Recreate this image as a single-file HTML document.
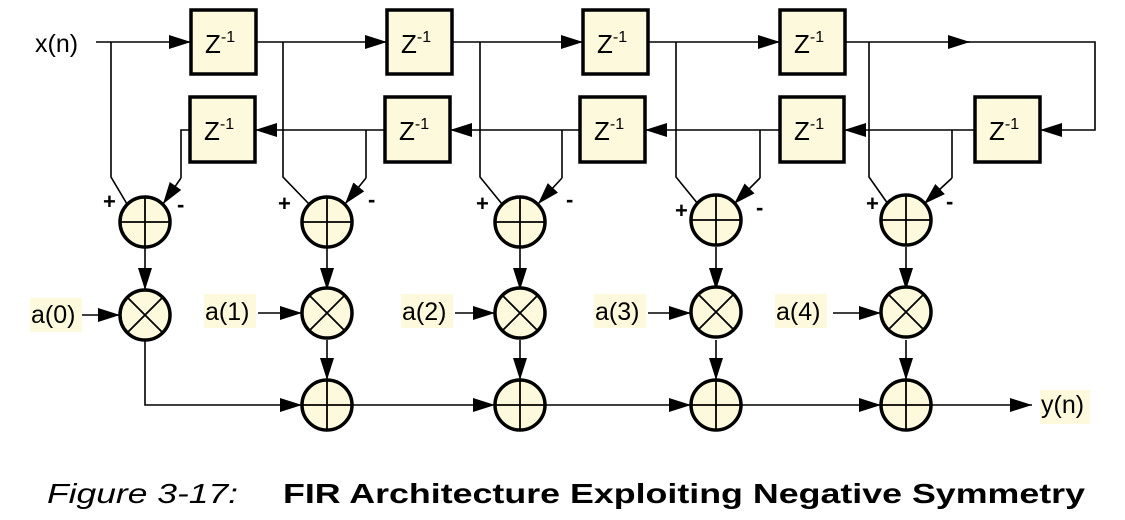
<!DOCTYPE html>
<html><head><meta charset="utf-8"><style>
html,body{margin:0;padding:0;background:#fff;}
svg{display:block;}
</style></head><body>
<svg width="1125" height="520" viewBox="0 0 1125 520" xmlns="http://www.w3.org/2000/svg" font-family="Liberation Sans, sans-serif">
<defs>
<marker id="a" markerUnits="userSpaceOnUse" markerWidth="22" markerHeight="14" refX="22" refY="7" orient="auto"><path d="M0,0 L22,7 L0,14 Z" fill="#000"/></marker>
</defs>
<g stroke="#000" stroke-width="1.6" fill="none">
<line x1="96" y1="42" x2="191" y2="42" marker-end="url(#a)"/>
<line x1="256" y1="42" x2="387" y2="42" marker-end="url(#a)"/>
<line x1="452" y1="42" x2="583" y2="42" marker-end="url(#a)"/>
<line x1="648" y1="42" x2="780" y2="42" marker-end="url(#a)"/>
<line x1="845" y1="42" x2="970" y2="42" marker-end="url(#a)"/>
<polyline points="960,42 1095,42 1095,130 1040,130" marker-end="url(#a)"/>
<line x1="975" y1="130" x2="844" y2="130" marker-end="url(#a)"/>
<line x1="780" y1="130" x2="645" y2="130" marker-end="url(#a)"/>
<line x1="580" y1="130" x2="450" y2="130" marker-end="url(#a)"/>
<line x1="385" y1="130" x2="255" y2="130" marker-end="url(#a)"/>
<polyline points="111,42 111,177 127,204"/>
<polyline points="283,42 283,177 309,204"/>
<polyline points="480,42 480,177 502,204"/>
<polyline points="676,42 676,177 698,204"/>
<polyline points="869,42 869,177 888,204"/>
<polyline points="190,130 181,130 181,178"/><line x1="181" y1="178" x2="163" y2="204" marker-end="url(#a)"/>
<line x1="366" y1="130" x2="366" y2="178"/><line x1="366" y1="178" x2="345" y2="204" marker-end="url(#a)"/>
<line x1="562" y1="130" x2="562" y2="178"/><line x1="562" y1="178" x2="538" y2="204" marker-end="url(#a)"/>
<line x1="760" y1="130" x2="760" y2="178"/><line x1="760" y1="178" x2="734" y2="204" marker-end="url(#a)"/>
<line x1="952" y1="130" x2="952" y2="178"/><line x1="952" y1="178" x2="924" y2="204" marker-end="url(#a)"/>
<line x1="145" y1="247" x2="145" y2="290" marker-end="url(#a)"/>
<line x1="327" y1="247" x2="327" y2="290" marker-end="url(#a)"/>
<line x1="520" y1="247" x2="520" y2="290" marker-end="url(#a)"/>
<line x1="716" y1="247" x2="716" y2="290" marker-end="url(#a)"/>
<line x1="906" y1="247" x2="906" y2="290" marker-end="url(#a)"/>
<polyline points="145,340 145,405 302,405" marker-end="url(#a)"/>
<line x1="327" y1="340" x2="327" y2="380" marker-end="url(#a)"/>
<line x1="520" y1="340" x2="520" y2="380" marker-end="url(#a)"/>
<line x1="716" y1="340" x2="716" y2="380" marker-end="url(#a)"/>
<line x1="906" y1="340" x2="906" y2="380" marker-end="url(#a)"/>
<line x1="352" y1="405" x2="495" y2="405" marker-end="url(#a)"/>
<line x1="545" y1="405" x2="691" y2="405" marker-end="url(#a)"/>
<line x1="741" y1="405" x2="881" y2="405" marker-end="url(#a)"/>
<line x1="931" y1="405" x2="1032" y2="405" marker-end="url(#a)"/>
<line x1="82" y1="315" x2="120" y2="315" marker-end="url(#a)"/>
<line x1="258" y1="313" x2="302" y2="313" marker-end="url(#a)"/>
<line x1="455" y1="313" x2="495" y2="313" marker-end="url(#a)"/>
<line x1="648" y1="313" x2="691" y2="313" marker-end="url(#a)"/>
<line x1="833" y1="313" x2="881" y2="313" marker-end="url(#a)"/>
</g>
<g fill="#fdf9dc" stroke="#000" stroke-width="3.5">
<rect x="191" y="10" width="65" height="64"/>
<rect x="387" y="10" width="65" height="64"/>
<rect x="583" y="10" width="65" height="64"/>
<rect x="780" y="10" width="65" height="64"/>
<rect x="190" y="97" width="65" height="65"/>
<rect x="385" y="97" width="65" height="65"/>
<rect x="580" y="97" width="65" height="65"/>
<rect x="780" y="97" width="64" height="65"/>
<rect x="975" y="97" width="65" height="65"/>
</g>
<g font-size="26" fill="#000">
<text x="205" y="53">Z<tspan font-size="16" dy="-11">-1</tspan></text>
<text x="401" y="53">Z<tspan font-size="16" dy="-11">-1</tspan></text>
<text x="597" y="53">Z<tspan font-size="16" dy="-11">-1</tspan></text>
<text x="794" y="53">Z<tspan font-size="16" dy="-11">-1</tspan></text>
<text x="204" y="140">Z<tspan font-size="16" dy="-11">-1</tspan></text>
<text x="399" y="140">Z<tspan font-size="16" dy="-11">-1</tspan></text>
<text x="594" y="140">Z<tspan font-size="16" dy="-11">-1</tspan></text>
<text x="794" y="140">Z<tspan font-size="16" dy="-11">-1</tspan></text>
<text x="989" y="140">Z<tspan font-size="16" dy="-11">-1</tspan></text>
</g>
<g fill="#fdf9dc" stroke="#000" stroke-width="3.5">
<circle cx="145" cy="222" r="25"/><circle cx="327" cy="222" r="25"/><circle cx="520" cy="222" r="25"/><circle cx="716" cy="220" r="25"/><circle cx="906" cy="220" r="25"/>
<circle cx="145" cy="315" r="25"/><circle cx="327" cy="313" r="25"/><circle cx="520" cy="313" r="25"/><circle cx="716" cy="312" r="25"/><circle cx="906" cy="312" r="25"/>
<circle cx="327" cy="405" r="25"/><circle cx="520" cy="405" r="25"/><circle cx="716" cy="405" r="25"/><circle cx="906" cy="405" r="25"/>
</g>
<g stroke="#000" stroke-width="1.8">
<path d="M120,222H170M145,197V247 M302,222H352M327,197V247 M495,222H545M520,197V247 M691,220H741M716,195V245 M881,220H931M906,195V245"/>
<path d="M327,380V430M302,405H352 M520,380V430M495,405H545 M716,380V430M691,405H741 M906,380V430M881,405H931"/>
<path d="M127,297L163,333M163,297L127,333 M309,295L345,331M345,295L309,331 M502,295L538,331M538,295L502,331 M698,294L734,330M734,294L698,330 M888,294L924,330M924,294L888,330"/>
</g>
<g font-size="22" font-weight="bold" fill="#000">
<text x="103" y="209">+</text><text x="177" y="212">-</text>
<text x="278" y="211">+</text><text x="368" y="207">-</text>
<text x="476" y="211">+</text><text x="566" y="207">-</text>
<text x="675" y="218">+</text><text x="756" y="215">-</text>
<text x="866" y="211">+</text><text x="946" y="209">-</text>
</g>
<g fill="#fdf9dc">
<rect x="30" y="298" width="52" height="34"/><rect x="204" y="294" width="52" height="34"/><rect x="401" y="294" width="52" height="34"/><rect x="594" y="294" width="52" height="34"/><rect x="775" y="294" width="52" height="34"/><rect x="1040" y="390" width="50" height="34"/>
</g>
<g font-size="25" fill="#000">
<text x="35" y="52">x(n)</text>
<text x="31" y="323">a(0)</text>
<text x="205" y="320">a(1)</text>
<text x="402" y="320">a(2)</text>
<text x="595" y="320">a(3)</text>
<text x="776" y="320">a(4)</text>
<text x="1041" y="413">y(n)</text>
</g>
<text x="47" y="503" font-size="28" font-style="italic" textLength="191" lengthAdjust="spacingAndGlyphs">Figure 3-17:</text>
<text x="283" y="503" font-size="28" font-weight="bold" textLength="802" lengthAdjust="spacingAndGlyphs">FIR Architecture Exploiting Negative Symmetry</text>
</svg>
</body></html>
